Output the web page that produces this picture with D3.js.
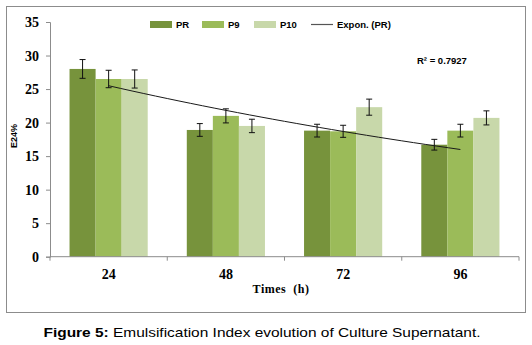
<!DOCTYPE html>
<html>
<head>
<meta charset="utf-8">
<script src="https://cdn.jsdelivr.net/npm/d3@7"></script>
<style>
  body { margin: 0; background: #fff; }
</style>
</head>
<body>
<svg id="chart"></svg>
<script>
// ----- data -----
const times = ["24", "48", "72", "96"];
const series_names = ["PR", "P9", "P10"];
const pr_values = [28.0, 18.9, 18.8, 16.7];
const p9_values = [26.5, 21.0, 18.7, 18.8];
const p10_values = [26.5, 19.5, 22.3, 20.7];
const pr_errors = [1.4, 0.95, 0.95, 0.8];
const p9_errors = [1.3, 1.05, 0.9, 0.95];
const p10_errors = [1.35, 1.0, 1.2, 1.05];
const y_ticks = [0, 5, 10, 15, 20, 25, 30, 35];
const r2_label = "R\u00b2 = 0.7927";

const series_colors = { PR: "#77933c", P9: "#9bbb59", P10: "#c8d8aa" };

// Build rows for the grouped bars
const values_by_series = { PR: pr_values, P9: p9_values, P10: p10_values };
const errors_by_series = { PR: pr_errors, P9: p9_errors, P10: p10_errors };
const bar_data = [];
times.forEach((t, i) => {
    series_names.forEach(s => {
        bar_data.push({ time: t, series: s, value: values_by_series[s][i], err: errors_by_series[s][i] });
    });
});

// Dimensions
const width = 532, height = 345;
const margins = { top: 22, left: 50, right: 13, bottom: 88.3 };
const chart_width = width - margins.left - margins.right;
const chart_height = height - margins.top - margins.bottom;

const svg = d3.select("#chart")
    .attr("width", width)
    .attr("height", height);

// Outer frame
svg.append("rect")
    .attr("x", 6.5).attr("y", 6.5)
    .attr("width", 519).attr("height", 306)
    .attr("fill", "none")
    .attr("stroke", "#8c8c8c")
    .attr("stroke-width", 1);

// Scales
const x0 = d3.scaleBand()
    .domain(times)
    .range([0, chart_width])
    .paddingInner(1 / 3)
    .paddingOuter(1 / 6);
const x1 = d3.scaleBand()
    .domain(series_names)
    .range([0, x0.bandwidth()]);
const y = d3.scaleLinear()
    .domain([0, 35])
    .range([chart_height, 0]);

const g = svg.append("g")
    .attr("transform", `translate(${margins.left}, ${margins.top})`);

// Bars
g.selectAll(".bar")
    .data(bar_data)
    .enter()
    .append("rect")
    .attr("class", "bar")
    .attr("x", d => x0(d.time) + x1(d.series))
    .attr("y", d => y(d.value))
    .attr("width", x1.bandwidth())
    .attr("height", d => chart_height - y(d.value))
    .attr("fill", d => series_colors[d.series]);

// Error bars
const errs = g.selectAll(".err")
    .data(bar_data)
    .enter()
    .append("g")
    .attr("class", "err")
    .attr("stroke", "#111")
    .attr("stroke-width", 1);
const cx = d => x0(d.time) + x1(d.series) + x1.bandwidth() / 2;
errs.append("line")
    .attr("x1", cx).attr("x2", cx)
    .attr("y1", d => y(d.value + d.err))
    .attr("y2", d => y(d.value - d.err));
errs.append("line")
    .attr("x1", d => cx(d) - 3).attr("x2", d => cx(d) + 3)
    .attr("y1", d => y(d.value + d.err)).attr("y2", d => y(d.value + d.err));
errs.append("line")
    .attr("x1", d => cx(d) - 3).attr("x2", d => cx(d) + 3)
    .attr("y1", d => y(d.value - d.err)).attr("y2", d => y(d.value - d.err));

// Exponential trendline fitted on PR (least squares on ln(y), x = 1..n)
const xs = pr_values.map((v, i) => i + 1);
const lns = pr_values.map(v => Math.log(v));
const mean_x = d3.mean(xs), mean_ln = d3.mean(lns);
const slope = d3.sum(xs.map((xv, i) => (xv - mean_x) * (lns[i] - mean_ln))) / d3.sum(xs.map(xv => (xv - mean_x) ** 2));
const intercept = mean_ln - slope * mean_x;
const trend_pts = d3.range(1, xs.length + 0.001, 0.1).map(k => [k, Math.exp(intercept + slope * k)]);
const idx_to_px = k => x0(times[0]) + x0.bandwidth() / 2 + (k - 1) * x0.step();
g.append("path")
    .datum(trend_pts)
    .attr("fill", "none")
    .attr("stroke", "#1a1a1a")
    .attr("stroke-width", 1)
    .attr("d", d3.line().x(d => idx_to_px(d[0])).y(d => y(d[1])));

// Y axis
const y_axis = g.append("g")
    .call(d3.axisLeft(y).tickValues(y_ticks).tickSize(4).tickPadding(7));
y_axis.select(".domain").attr("stroke", "#8c8c8c");
y_axis.selectAll(".tick line").attr("stroke", "#8c8c8c");
y_axis.selectAll("text")
    .attr("fill", "#000")
    .style("font-family", "'Liberation Serif', 'Times New Roman', serif")
    .style("font-weight", "bold")
    .style("font-size", "14px");

// X axis (ticks at band boundaries)
const x_axis = g.append("g")
    .attr("transform", `translate(0, ${chart_height})`);
x_axis.append("line")
    .attr("x1", 0).attr("x2", chart_width)
    .attr("stroke", "#8c8c8c");
const boundaries = d3.range(times.length + 1).map(i => i * x0.step());
x_axis.selectAll(".xtick")
    .data(boundaries)
    .enter()
    .append("line")
    .attr("x1", d => d).attr("x2", d => d)
    .attr("y1", 0).attr("y2", 4)
    .attr("stroke", "#8c8c8c");
x_axis.selectAll(".xlabel")
    .data(times)
    .enter()
    .append("text")
    .attr("x", d => x0(d) + x0.bandwidth() / 2)
    .attr("y", 22)
    .attr("text-anchor", "middle")
    .text(d => d)
    .style("font-family", "'Liberation Serif', 'Times New Roman', serif")
    .style("font-weight", "bold")
    .style("font-size", "14px");

// Axis titles
svg.append("text")
    .attr("x", 281)
    .attr("y", 293)
    .attr("text-anchor", "middle")
    .style("font-family", "'Liberation Serif', 'Times New Roman', serif")
    .style("font-weight", "bold")
    .style("font-size", "12px")
    .style("letter-spacing", "0.5px")
    .attr("xml:space", "preserve")
    .text("Times  (h)");
svg.append("text")
    .attr("transform", "translate(17, 136) rotate(-90)")
    .attr("text-anchor", "middle")
    .style("font-family", "'Liberation Sans', Arial, sans-serif")
    .style("font-weight", "bold")
    .style("font-size", "9px")
    .text("E24%");

// Legend
const legend_items = [
    { name: "PR", x: 150 }, { name: "P9", x: 202 }, { name: "P10", x: 254 }
];
legend_items.forEach(item => {
    svg.append("rect")
        .attr("x", item.x).attr("y", 21)
        .attr("width", 22).attr("height", 7)
        .attr("fill", series_colors[item.name]);
    svg.append("text")
        .attr("x", item.x + 26).attr("y", 28)
        .style("font-family", "'Liberation Sans', Arial, sans-serif")
        .style("font-weight", "bold")
        .style("font-size", "9.5px")
        .text(item.name);
});
svg.append("line")
    .attr("x1", 311).attr("x2", 333)
    .attr("y1", 24.5).attr("y2", 24.5)
    .attr("stroke", "#555").attr("stroke-width", 1.2);
svg.append("text")
    .attr("x", 337).attr("y", 28)
    .style("font-family", "'Liberation Sans', Arial, sans-serif")
    .style("font-weight", "bold")
    .style("font-size", "9.5px")
    .text("Expon. (PR)");

// R squared label
svg.append("text")
    .attr("x", 417).attr("y", 64)
    .style("font-family", "'Liberation Sans', Arial, sans-serif")
    .style("font-weight", "bold")
    .style("font-size", "9.5px")
    .text(r2_label);

// Caption (horizontally stretched like the source figure)
const caption = svg.append("text")
    .attr("transform", "translate(262, 337) scale(1.19, 1)")
    .attr("text-anchor", "middle")
    .style("font-family", "'Liberation Sans', Arial, sans-serif")
    .style("font-size", "13px");
caption.append("tspan").style("font-weight", "bold").text("Figure 5:");
caption.append("tspan").text(" Emulsification Index evolution of Culture Supernatant.");
</script>
</body>
</html>
